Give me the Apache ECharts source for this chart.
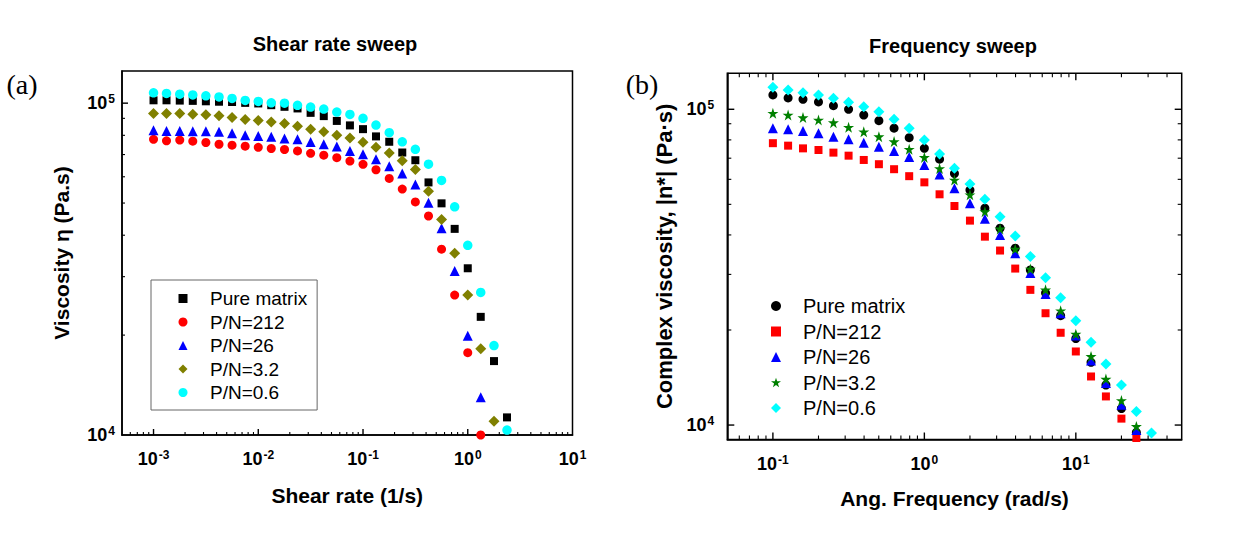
<!DOCTYPE html>
<html><head><meta charset="utf-8">
<script src="https://cdn.jsdelivr.net/npm/echarts@6/dist/echarts.min.js"></script>
<style>html,body{margin:0;padding:0;background:#fff}#c{width:1247px;height:541px}</style>
</head><body><div id="c"></div>
<script>
const FONT = 'Arial, "Liberation Sans", sans-serif';
const seriesNames = ['Pure matrix', 'P/N=212', 'P/N=26', 'P/N=3.2', 'P/N=0.6'];

// (a) Shear rate sweep
const shearRate = [0.001, 0.00133, 0.00178, 0.00237, 0.00316, 0.00422, 0.00562, 0.0075,
  0.01, 0.0133, 0.0178, 0.0237, 0.0316, 0.0422, 0.0562, 0.075,
  0.1, 0.133, 0.178, 0.237, 0.316, 0.422, 0.562, 0.75,
  1, 1.33, 1.78, 2.37];
const shearPure = [102000, 102000, 101800, 101600, 101300, 101000, 100800, 100200, 99800, 98600, 97500, 96400, 93500, 91400, 88400, 85700, 83500, 79400, 76500, 71000, 67300, 57700, 49900, 41800, 31800, 22700, 16700, 11300];
const shear212 = [77800, 77000, 77400, 76800, 76100, 75200, 74700, 74200, 73600, 73000, 72500, 71800, 70600, 69700, 68500, 66900, 65400, 63000, 59300, 55100, 50400, 45700, 36300, 26400, 17700, 10000];
const shear26 = [82900, 82500, 82500, 82300, 82300, 82000, 81100, 80100, 79600, 79200, 78300, 77900, 76400, 75200, 74000, 71700, 70200, 67800, 64600, 61400, 56900, 50100, 42000, 31200, 19900, 13000];
const shear32 = [93100, 93100, 93100, 92600, 92200, 91600, 90600, 89300, 88700, 87800, 86900, 85200, 83500, 82000, 80100, 78500, 76300, 73700, 70800, 67000, 63100, 54300, 44600, 35300, 26400, 18200, 11000];
const shear06 = [107400, 107000, 106400, 105900, 105200, 104400, 103300, 101900, 101200, 100200, 100000, 98500, 97300, 96000, 94000, 92500, 90000, 85900, 81500, 76500, 72600, 65500, 58500, 48700, 37300, 26900, 18600, 10350];

// (b) Frequency sweep
const freq = [0.1, 0.126, 0.158, 0.2, 0.251, 0.316, 0.398, 0.501, 0.631, 0.794,
  1, 1.26, 1.58, 2, 2.51, 3.16, 3.98, 5.01, 6.31, 7.94,
  10, 12.6, 15.8, 20, 25.1, 31.6];
const freqPure = [111000, 108600, 107500, 105500, 102700, 100000, 95900, 92000, 87100, 81300, 75200, 69500, 62600, 55500, 48600, 42000, 36300, 31000, 26200, 22200, 18800, 15800, 13390, 11280, 9470];
const freq212 = [78100, 76700, 75200, 74300, 72900, 71300, 69100, 67000, 64600, 61400, 58700, 53800, 49400, 44400, 39500, 35700, 31300, 26800, 22600, 19600, 17100, 14250, 12320, 10480, 9100];
const freq26 = [87100, 86500, 85400, 84000, 81900, 80400, 78400, 76100, 73800, 70600, 66600, 62200, 56200, 50400, 45000, 40000, 35000, 30300, 26000, 22600, 19200, 16000, 13580, 11590, 9640];
const freq32 = [97100, 95900, 94100, 92500, 90700, 87700, 84900, 81900, 79000, 74700, 70400, 64900, 59700, 53600, 47400, 41800, 36100, 31200, 26800, 23000, 19400, 16500, 13980, 11960, 9900];
const freq06 = [117400, 115100, 112900, 111000, 108300, 105200, 101900, 98300, 93000, 87100, 79900, 72200, 65000, 58000, 51900, 45700, 39700, 34200, 29300, 25300, 21400, 18300, 15600, 13390, 11040, 9430];

// axis ranges (log axes) and minor-tick multipliers
const shearRange = [5e-4, 10];
const shearViscRange = [1e4, 1.25e5];
const freqRange = [0.05, 50];
const freqViscRange = [9000, 1.3e5];
const minorMultipliers = [2, 3, 4, 5, 6, 7, 8, 9];

const L = Math.log10;
const isDecade = v => Math.abs(L(v) - Math.round(L(v))) < 1e-9;
const rich = {
  b: { fontFamily: FONT, fontWeight: 'bold', fontSize: 18, color: '#000', lineHeight: 20 },
  s: { fontFamily: FONT, fontWeight: 'bold', fontSize: 12, color: '#000', lineHeight: 12, verticalAlign: 'top', padding: [0, 0, 0, 1] }
};
function expLabel(v) { return '{b|10}{s|' + Math.round(v) + '}'; }
const nameStyle = { fontFamily: FONT, fontWeight: 'bold', fontSize: 21, color: '#000' };

// log-decade axis: data are log10 values; labels at whole decades
function logAxis(grid, pos, range, margin, extra) {
  return Object.assign({
    type: 'value', gridIndex: grid, position: pos, min: L(range[0]), max: L(range[1]),
    minInterval: 1, maxInterval: 1,
    axisLine: { show: true, onZero: false, lineStyle: { color: '#000', width: 1.5 } },
    axisTick: { show: false },
    splitLine: { show: false },
    axisLabel: { show: true, formatter: expLabel, rich: rich, margin: margin,
      showMinLabel: isDecade(range[0]), showMaxLabel: isDecade(range[1]) }
  }, extra);
}
const xAxes = [
  logAxis(0, 'bottom', shearRange, 14, { name: 'Shear rate (1/s)', nameLocation: 'middle', nameGap: 50, nameTextStyle: nameStyle }),
  logAxis(1, 'bottom', freqRange, 14, { name: 'Ang. Frequency (rad/s)', nameLocation: 'middle', nameGap: 48, nameTextStyle: nameStyle })
];
const yAxes = [
  logAxis(0, 'left', shearViscRange, 7, { name: 'Viscosity \u03b7 (Pa.s)', nameLocation: 'middle', nameGap: 50, nameTextStyle: nameStyle }),
  logAxis(1, 'left', freqViscRange, 13, { name: 'Complex viscosity, |n*| (Pa\u00b7s)', nameLocation: 'middle', nameGap: 52, nameTextStyle: Object.assign({}, nameStyle, { fontSize: 22 }) })
];

// Inward log ticks (decades and 2..9 minors), placed through the grid's own scales by a custom series.
const SIDE = { bottom: 0, top: 1, left: 2, right: 3 };
function logTicks(xr, yr, sides, majorLen, minorLen) {
  const X = [L(xr[0]), L(xr[1])], Y = [L(yr[0]), L(yr[1])];
  const out = [];
  sides.forEach(side => {
    const horiz = side === 'bottom' || side === 'top';
    const r = horiz ? X : Y;
    const put = (v, len) => {
      if (side === 'bottom') out.push([v, Y[0], len, SIDE.bottom]);
      else if (side === 'top') out.push([v, Y[1], len, SIDE.top]);
      else if (side === 'left') out.push([X[0], v, len, SIDE.left]);
      else out.push([X[1], v, len, SIDE.right]);
    };
    for (let e = Math.floor(r[0]) - 1; e <= Math.ceil(r[1]); e++) {
      if (e > r[0] + 1e-9 && e < r[1] - 1e-9) put(e, majorLen);
      minorMultipliers.forEach(k => { const v = e + L(k); if (v > r[0] + 1e-6 && v < r[1] - 1e-6) put(v, minorLen); });
    }
  });
  return out;
}
function renderTick(params, api) {
  const p = api.coord([api.value(0), api.value(1)]);
  const len = api.value(2), d = api.value(3);
  let x2 = p[0], y2 = p[1];
  if (d === SIDE.bottom) y2 -= len; else if (d === SIDE.top) y2 += len;
  else if (d === SIDE.left) x2 += len; else x2 -= len;
  return { type: 'line', shape: { x1: p[0], y1: p[1], x2: x2, y2: y2 },
    style: { stroke: '#000', lineWidth: len >= 6 ? 1.4 : 1.1 } };
}

const STAR = 'path://M50,0 L61.2,34.5 L97.6,34.5 L68.2,55.9 L79.4,90.5 L50,69.1 L20.6,90.5 L31.8,55.9 L2.4,34.5 L38.8,34.5 Z';
const leftSpec = [
  { data: shearPure, color: '#000000', symbol: 'rect', size: 8 },
  { data: shear212, color: '#ff0000', symbol: 'circle', size: 9 },
  { data: shear26, color: '#0000ff', symbol: 'triangle', size: 10 },
  { data: shear32, color: '#808000', symbol: 'diamond', size: 11 },
  { data: shear06, color: '#00ffff', symbol: 'circle', size: 9.5 }
];
const rightSpec = [
  { data: freqPure, color: '#000000', symbol: 'circle', size: 9 },
  { data: freq212, color: '#ff0000', symbol: 'rect', size: 8 },
  { data: freq26, color: '#0000ff', symbol: 'triangle', size: 10 },
  { data: freq32, color: '#008000', symbol: STAR, size: 11 },
  { data: freq06, color: '#00ffff', symbol: 'diamond', size: 11 }
];
const series = [];
leftSpec.forEach((s, k) => series.push({
  type: 'scatter', name: 'L:' + seriesNames[k], xAxisIndex: 0, yAxisIndex: 0,
  symbol: s.symbol, symbolSize: s.size, itemStyle: { color: s.color, opacity: 1 },
  data: s.data.map((v, i) => [L(shearRate[i]), L(v)]), clip: true
}));
rightSpec.forEach((s, k) => series.push({
  type: 'scatter', name: 'R:' + seriesNames[k], xAxisIndex: 1, yAxisIndex: 1,
  symbol: s.symbol, symbolSize: s.size, itemStyle: { color: s.color, opacity: 1 },
  data: s.data.map((v, i) => [L(freq[i]), L(v)]), clip: true
}));
series.push({ type: 'custom', name: 'ticksA', xAxisIndex: 0, yAxisIndex: 0, silent: true, clip: false, z: 5,
  renderItem: renderTick, data: logTicks(shearRange, shearViscRange, ['bottom', 'left'], 6, 3) });
series.push({ type: 'custom', name: 'ticksB', xAxisIndex: 1, yAxisIndex: 1, silent: true, clip: false, z: 5,
  renderItem: renderTick, data: logTicks(freqRange, freqViscRange, ['bottom', 'top', 'left', 'right'], 7, 4) });

const chart = echarts.init(document.getElementById('c'), null, { renderer: 'svg' });
chart.setOption({
  backgroundColor: '#fff',
  animation: false,
  tooltip: { show: false },
  grid: [
    { left: 122, top: 71, width: 450.5, height: 364, show: true, borderColor: '#000', borderWidth: 1.5, backgroundColor: 'transparent' },
    { left: 727.3, top: 73.3, width: 454.4, height: 366.2, show: true, borderColor: '#000', borderWidth: 1.5, backgroundColor: 'transparent' }
  ],
  xAxis: xAxes,
  yAxis: yAxes,
  legend: [
    { data: seriesNames.map(n => 'L:' + n), formatter: n => n.slice(2), orient: 'vertical',
      left: 151, top: 280, padding: [9, 10, 8, 27.5], itemGap: 4.5, itemWidth: 9, itemHeight: 9,
      borderColor: '#666', borderWidth: 1, selectedMode: false,
      textStyle: { fontFamily: FONT, fontSize: 19, color: '#000', padding: [0, 0, 0, 17.5] } },
    { data: seriesNames.map(n => 'R:' + n), formatter: n => n.slice(2), orient: 'vertical',
      left: 771, top: 296, padding: 0, itemGap: 5.5, itemWidth: 10, itemHeight: 10, selectedMode: false,
      textStyle: { fontFamily: FONT, fontSize: 20, color: '#000', padding: [0, 0, 0, 17] } }
  ],
  graphic: [
    { type: 'text', x: 335, y: 44, style: { text: 'Shear rate sweep', fontFamily: FONT, fontWeight: 'bold', fontSize: 20, fill: '#000', align: 'center', verticalAlign: 'middle' } },
    { type: 'text', x: 953, y: 46, style: { text: 'Frequency sweep', fontFamily: FONT, fontWeight: 'bold', fontSize: 20, fill: '#000', align: 'center', verticalAlign: 'middle' } },
    { type: 'text', x: 22, y: 84, style: { text: '(a)', fontFamily: '"Liberation Serif", "Times New Roman", serif', fontSize: 28, fill: '#000', align: 'center', verticalAlign: 'middle' } },
    { type: 'text', x: 642, y: 84, style: { text: '(b)', fontFamily: '"Liberation Serif", "Times New Roman", serif', fontSize: 28, fill: '#000', align: 'center', verticalAlign: 'middle' } }
  ],
  series: series
});
</script></body></html>
